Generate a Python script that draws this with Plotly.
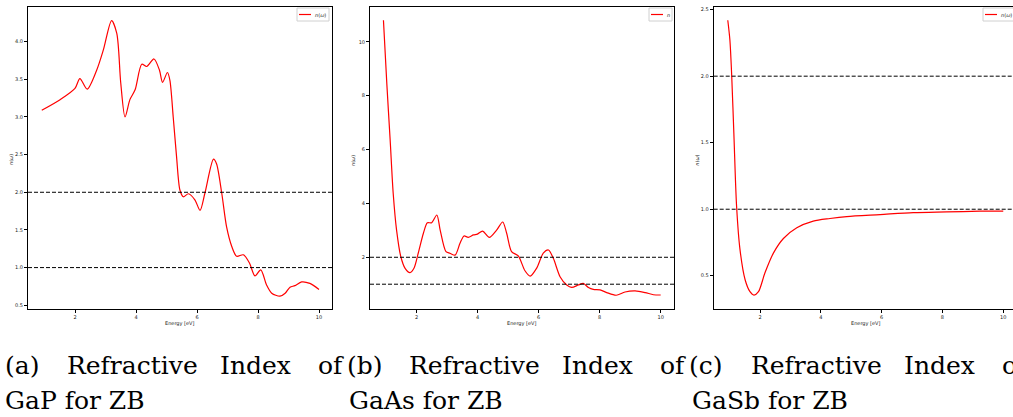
import plotly.graph_objects as go

W, H = 1013, 417

# ---------------- data ----------------
gap_energy = [0.91, 1.51, 2.00, 2.16, 2.40, 2.71, 2.93, 3.20, 3.37, 3.50, 3.64, 3.80, 3.97,
              4.19, 4.35, 4.59, 4.77, 4.87, 5.03, 5.11, 5.22, 5.33, 5.44, 5.55, 5.72, 5.93,
              6.10, 6.26, 6.54, 6.64, 6.81, 6.97, 7.14, 7.30, 7.52, 7.72, 7.90, 8.09, 8.28,
              8.45, 8.72, 8.89, 9.05, 9.21, 9.43, 9.70, 10.0]
gap_n = [3.09, 3.23, 3.38, 3.51, 3.37, 3.62, 3.89, 4.28, 4.11, 3.45, 3.00, 3.23, 3.36,
         3.70, 3.67, 3.77, 3.62, 3.46, 3.59, 3.49, 3.00, 2.47, 2.03, 1.94, 1.98, 1.90,
         1.76, 1.99, 2.44, 2.38, 1.99, 1.54, 1.28, 1.15, 1.17, 1.06, 0.89, 0.97, 0.77,
         0.66, 0.62, 0.66, 0.74, 0.76, 0.81, 0.79, 0.71]

gaas_energy = [0.91, 1.02, 1.13, 1.23, 1.34, 1.48, 1.62, 1.78, 1.91, 2.05, 2.22, 2.35, 2.49,
               2.66, 2.77, 2.96, 3.09, 3.26, 3.42, 3.55, 3.69, 3.86, 3.99, 4.16, 4.38, 4.62,
               4.82, 4.95, 5.11, 5.33, 5.55, 5.72, 5.93, 6.15, 6.32, 6.48, 6.70, 6.92, 7.08,
               7.30, 7.46, 7.63, 7.79, 8.01, 8.23, 8.54, 8.83, 9.16, 9.49, 9.76, 10.0]
gaas_n = [10.80, 8.45, 6.35, 4.37, 3.01, 2.02, 1.59, 1.43, 1.59, 2.15, 2.89, 3.28, 3.28,
          3.57, 3.01, 2.21, 2.15, 2.08, 2.52, 2.79, 2.74, 2.83, 2.86, 2.97, 2.74, 3.01,
          3.31, 2.89, 2.21, 2.05, 1.50, 1.30, 1.59, 2.15, 2.27, 1.96, 1.28, 0.97, 0.88,
          0.97, 1.03, 0.88, 0.81, 0.79, 0.69, 0.59, 0.71, 0.75, 0.69, 0.61, 0.60]

gasb_energy = [0.94, 1.01, 1.07, 1.14, 1.23, 1.34, 1.51, 1.67, 1.80, 1.95, 2.16, 2.44, 2.77,
               3.21, 3.75, 4.30, 4.85, 5.95, 7.04, 8.14, 9.24, 10.0]
gasb_n = [2.42, 2.27, 2.00, 1.57, 1.02, 0.70, 0.47, 0.38, 0.355, 0.38, 0.52, 0.67, 0.78,
          0.86, 0.91, 0.93, 0.945, 0.96, 0.975, 0.98, 0.985, 0.985]

ref_levels = [2.0, 1.0]

x_ticks = [2, 4, 6, 8, 10]
gap_yticks = [0.5, 1.0, 1.5, 2.0, 2.5, 3.0, 3.5, 4.0]
gaas_yticks = [2, 4, 6, 8, 10]
gasb_yticks = [0.5, 1.0, 1.5, 2.0, 2.5]

legend_names = ["<i>n</i>(<i>ω</i>)", "<i>n</i>", "<i>n</i>(<i>ω</i>)"]
captions_line1 = [["(a)", "Refractive", "Index", "of"],
                  ["(b)", "Refractive", "Index", "of"],
                  ["(c)", "Refractive", "Index", "of"]]
captions_line2 = ["GaP for ZB", "GaAs for ZB", "GaSb for ZB"]

# ---------------- layout geometry ----------------
ydom = [1 - 309 / H, 1 - 7 / H]
panels = [
    dict(x=gap_energy, y=gap_n, xdom=[28 / W, 332 / W], xr=[0.459, 10.426], yr=[0.45, 4.46],
         yt=gap_yticks, yfmt=".1f", mirror_right=True, leg=(297, 329)),
    dict(x=gaas_energy, y=gaas_n, xdom=[370 / W, 674 / W], xr=[0.469, 10.436], yr=[0.08, 11.29],
         yt=gaas_yticks, yfmt="d", mirror_right=True, leg=(649, 672)),
    dict(x=gasb_energy, y=gasb_n, xdom=[713.7 / W, 1.0], xr=[0.477, 10.32], yr=[0.25, 2.52],
         yt=gasb_yticks, yfmt=".1f", mirror_right=False, leg=(983, 1016)),
]

fig = go.Figure()
small_font = dict(family="DejaVu Sans", size=5, color="#222")
annotations = []
shapes = []

for i, p in enumerate(panels):
    sfx = "" if i == 0 else str(i + 1)
    fig.add_trace(go.Scatter(
        x=p["x"], y=p["y"], mode="lines", name=legend_names[i],
        line=dict(color="red", width=1.2, shape="spline", smoothing=0.8),
        xaxis="x" + sfx, yaxis="y" + sfx, showlegend=False))
    fig.layout["xaxis" + sfx] = dict(
        domain=p["xdom"], range=p["xr"], anchor="y" + sfx, tickvals=x_ticks,
        showgrid=False, zeroline=False, showline=True, linecolor="black", linewidth=1,
        mirror=True, ticks="outside", ticklen=3, tickwidth=1, tickcolor="black",
        tickfont=small_font)
    fig.layout["yaxis" + sfx] = dict(
        domain=ydom, range=p["yr"], anchor="x" + sfx, tickvals=p["yt"], tickformat=p["yfmt"],
        showgrid=False, zeroline=False, showline=True, linecolor="black", linewidth=1,
        mirror=p["mirror_right"], ticks="outside", ticklen=3, tickwidth=1, tickcolor="black",
        tickfont=small_font)
    for lev in ref_levels:
        shapes.append(dict(type="line", xref=f"x{sfx} domain", yref="y" + sfx,
                           x0=0, x1=1, y0=lev, y1=lev,
                           line=dict(color="black", width=1, dash="4px,2px")))
    xc = (p["xdom"][0] * W + 152) / W
    annotations.append(dict(text="Energy [eV]", x=xc, y=1 - 323 / H, xref="paper", yref="paper",
                            showarrow=False, xanchor="center", yanchor="middle", font=small_font))
    annotations.append(dict(text="<i>n</i>(<i>ω</i>)", x=p["xdom"][0] - 17 / W, y=1 - 160 / H,
                            xref="paper", yref="paper", showarrow=False, textangle=-90,
                            xanchor="center", yanchor="middle", font=small_font))
    lx0, lx1 = p["leg"]
    shapes.append(dict(type="rect", xref="paper", yref="paper",
                       x0=lx0 / W, x1=lx1 / W, y0=1 - 21 / H, y1=1 - 8 / H,
                       line=dict(color="#d0d0d0", width=1), fillcolor="rgba(255,255,255,0.8)"))
    shapes.append(dict(type="line", xref="paper", yref="paper",
                       x0=(lx0 + 2) / W, x1=(lx0 + 14) / W, y0=1 - 14.5 / H, y1=1 - 14.5 / H,
                       line=dict(color="red", width=1.2)))
    annotations.append(dict(text=legend_names[i], x=(lx0 + 16) / W, y=1 - 14.5 / H,
                            xref="paper", yref="paper", showarrow=False, xanchor="left",
                            yanchor="middle", font=small_font))

# captions (justified first line, word by word)
cap_font = dict(family="DejaVu Serif", size=25, color="black")
line1_x = [[3, 65, 218, 316], [345, 407, 560, 658], [687, 749, 902, 1000]]
line2_x = [3, 347, 690]
for i in range(3):
    for word, xp in zip(captions_line1[i], line1_x[i]):
        annotations.append(dict(text=word, x=xp / W, y=1 - 365 / H, xref="paper", yref="paper",
                                showarrow=False, xanchor="left", yanchor="middle", font=cap_font))
    annotations.append(dict(text=captions_line2[i], x=line2_x[i] / W, y=1 - 400 / H,
                            xref="paper", yref="paper", showarrow=False, xanchor="left",
                            yanchor="middle", font=cap_font))

fig.update_layout(width=W, height=H, margin=dict(l=0, r=0, t=0, b=0),
                  paper_bgcolor="white", plot_bgcolor="white",
                  annotations=annotations, shapes=shapes, showlegend=False)

fig.write_html("out.html")
